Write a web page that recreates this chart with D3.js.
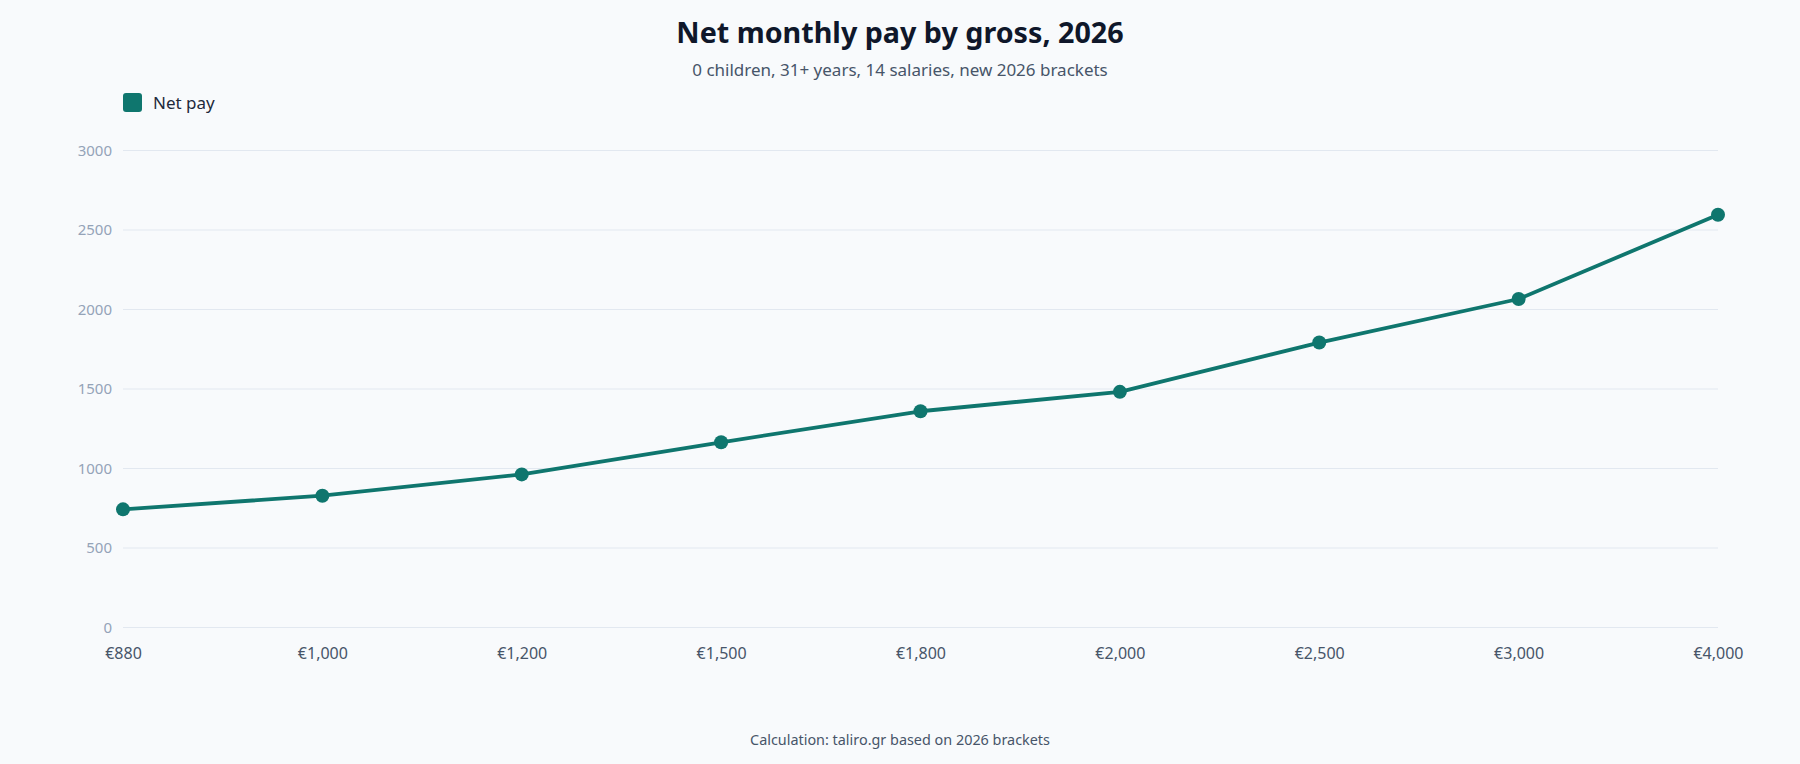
<!DOCTYPE html>
<html>
<head>
<meta charset="utf-8">
<script src="https://cdn.jsdelivr.net/npm/d3@7"></script>
<style>
  html, body { margin: 0; padding: 0; background: #f8fafc; }
  svg { display: block; }
  text { font-family: "Noto Sans", "Open Sans", sans-serif; }
</style>
</head>
<body>
<svg id="chart" width="1800" height="764"></svg>
<script>
const categories = ["€880", "€1,000", "€1,200", "€1,500", "€1,800", "€2,000", "€2,500", "€3,000", "€4,000"];
const netPay = [743, 829, 963, 1165, 1360, 1482, 1792, 2066, 2596];
const yTicks = [0, 500, 1000, 1500, 2000, 2500, 3000];
const seriesName = "Net pay";
const titleText = "Net monthly pay by gross, 2026";
const subtitleText = "0 children, 31+ years, 14 salaries, new 2026 brackets";
const footerText = "Calculation: taliro.gr based on 2026 brackets";

const W = 1800, H = 764;
const margin = { left: 123, right: 82, top: 150.5, bottom: 136.5 };
const svg = d3.select("#chart");
svg.append("rect").attr("width", W).attr("height", H).attr("fill", "#f8fafc");

const x = d3.scalePoint().domain(categories).range([margin.left, W - margin.right]).padding(0);
const y = d3.scaleLinear().domain([0, 3000]).range([H - margin.bottom, margin.top]);

// grid
svg.append("g").selectAll("line").data(yTicks).join("line")
  .attr("x1", margin.left).attr("x2", W - margin.right)
  .attr("y1", d => y(d)).attr("y2", d => y(d))
  .attr("stroke", "#e2e8f0").attr("stroke-width", 1);

// y axis
const yAxis = svg.append("g").attr("transform", `translate(${margin.left - 11},0)`)
  .call(d3.axisLeft(y).tickValues(yTicks).tickSize(0).tickPadding(0).tickFormat(d3.format("d")));
yAxis.select(".domain").remove();
yAxis.selectAll("text").attr("fill", "#94a3b8").attr("font-size", 15).attr("font-family", "Noto Sans");

// x axis
const xAxis = svg.append("g").attr("transform", `translate(0,${H - margin.bottom})`)
  .call(d3.axisBottom(x).tickSize(0).tickPadding(20));
xAxis.select(".domain").remove();
xAxis.selectAll("text").attr("fill", "#475569").attr("font-size", 16).attr("font-family", "Noto Sans");

// line
const line = d3.line().x((d, i) => x(categories[i])).y(d => y(d));
svg.append("path").datum(netPay)
  .attr("d", line).attr("fill", "none")
  .attr("stroke", "#0f766e").attr("stroke-width", 3.8).attr("stroke-linejoin", "round");

svg.append("g").selectAll("circle").data(netPay).join("circle")
  .attr("cx", (d, i) => x(categories[i])).attr("cy", d => y(d))
  .attr("r", 7).attr("fill", "#0f766e");

// title
svg.append("text").attr("x", W / 2).attr("y", 43).attr("text-anchor", "middle")
  .attr("font-size", 28.7).attr("font-weight", 700).attr("fill", "#0f172a").text(titleText);
svg.append("text").attr("x", W / 2).attr("y", 76).attr("text-anchor", "middle")
  .attr("font-size", 17).attr("fill", "#475569").text(subtitleText);

// legend
const lg = svg.append("g").attr("transform", "translate(123,93)");
lg.append("rect").attr("width", 19).attr("height", 19).attr("rx", 3).attr("fill", "#0f766e");
lg.append("text").attr("x", 30).attr("y", 15.5).attr("font-size", 17).attr("fill", "#1e293b").text(seriesName);

// footer
svg.append("text").attr("x", W / 2).attr("y", 745).attr("text-anchor", "middle")
  .attr("font-size", 14.4).attr("fill", "#475569").text(footerText);
</script>
</body>
</html>
